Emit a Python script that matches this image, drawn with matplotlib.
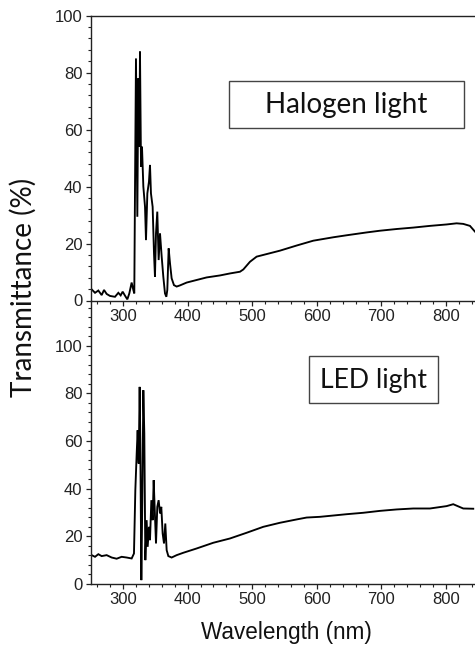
import matplotlib
matplotlib.use("Agg")
import matplotlib.pyplot as plt
from matplotlib.ticker import MultipleLocator
from matplotlib.patches import Rectangle

# ---------------- data ----------------
halogen_wl = [251.5, 256.7, 261.8, 267.0, 270.6, 274.7, 279.9, 287.6, 292.8, 296.4,
              299.5, 303.1, 306.7, 309.8, 313.4, 316.0, 317.5, 318.6, 320.1, 322.2,
              323.7, 325.3, 326.3, 327.9, 329.4, 331.5, 334.1, 335.6, 337.7, 340.2,
              341.8, 343.3, 345.9, 348.0, 349.5, 351.1, 353.1, 355.2, 357.3, 359.9,
              362.4, 365.0, 367.1, 368.6, 370.7, 372.8, 375.3, 378.9, 383.1, 388.2,
              398.6, 414.0, 429.5, 450.2, 465.6, 481.1, 486.3, 496.6, 506.9, 522.4,
              543.0, 568.8, 594.6, 625.6, 646.2, 677.2, 697.8, 723.6, 749.4, 775.2,
              801.0, 816.5, 826.8, 837.2, 844.9]
halogen_t = [3.9, 2.7, 3.5, 1.9, 3.7, 2.3, 1.6, 1.3, 2.7, 1.8,
             3.1, 1.7, 0.4, 2.5, 6.3, 3.7, 2.5, 39.4, 85.0, 29.4,
             78.0, 54.0, 87.4, 47.0, 54.0, 40.0, 32.9, 21.2, 37.6, 41.7,
             47.6, 37.6, 32.9, 16.6, 8.4, 23.6, 31.2, 14.2, 23.6, 15.4,
             8.4, 2.5, 1.3, 3.7, 18.3, 13.0, 7.8, 5.4, 4.9, 5.3,
             6.3, 7.2, 8.1, 8.8, 9.5, 10.1, 10.9, 13.6, 15.4, 16.3,
             17.5, 19.3, 21.0, 22.2, 22.9, 23.9, 24.5, 25.1, 25.6, 26.2,
             26.7, 27.1, 26.9, 26.2, 24.2]

led_wl = [251.5, 256.7, 261.8, 267.0, 274.7, 282.5, 290.2, 297.9, 305.7, 313.4,
          317.0, 319.1, 321.2, 322.7, 324.3, 325.8, 326.8, 328.4, 329.9, 331.5,
          333.0, 334.6, 336.6, 338.2, 340.2, 341.8, 343.9, 345.9, 347.5, 349.0,
          351.1, 353.1, 355.2, 357.3, 359.3, 361.4, 363.5, 365.5, 367.6, 370.2,
          375.3, 383.1, 393.4, 414.0, 439.8, 465.6, 491.4, 517.2, 543.0, 568.8,
          584.3, 605.0, 646.2, 672.0, 697.8, 723.6, 749.4, 775.2, 801.0, 811.3,
          826.8, 842.3]
led_t = [12.0, 11.3, 12.4, 11.6, 12.0, 11.0, 10.5, 11.3, 11.0, 10.6,
         12.7, 39.3, 54.7, 64.5, 50.5, 82.7, 60.3, 1.5, 35.1, 81.3,
         63.1, 9.9, 26.7, 15.5, 23.9, 18.3, 35.1, 26.7, 43.5, 32.3,
         16.9, 32.3, 35.1, 29.5, 32.3, 21.1, 16.9, 25.3, 14.1, 11.6,
         11.0, 12.0, 13.0, 14.8, 17.2, 19.0, 21.4, 23.9, 25.6, 27.0,
         27.8, 28.1, 29.2, 29.8, 30.6, 31.2, 31.6, 31.6, 32.6, 33.4,
         31.6, 31.5]

x_ticks = [300, 400, 500, 600, 700, 800]
y_ticks = [0, 20, 40, 60, 80, 100]
panel_labels = ["Halogen light", "LED light"]
x_label = "Wavelength (nm)"
y_label = "Transmittance (%)"

# ---------------- figure ----------------
W, H = 475, 646
fig = plt.figure(figsize=(W / 100, H / 100), dpi=100)
tick_font = "Liberation Sans"
label_font = ["Lato", "DejaVu Sans"]

def fx(px):
    return px / W

def fy(py):
    return 1 - py / H

left = fx(90.7)
width = 1.0 - left
ax_top = fig.add_axes([left, fy(300.5), width, fy(15.7) - fy(300.5)])
ax_bot = fig.add_axes([left, fy(583.7), width, fy(300.5) - fy(583.7)])
ax_bot.patch.set_visible(False)
ax_top.set_zorder(3)
ax_top.patch.set_visible(False)

for ax, wl, t, ylim in ((ax_top, halogen_wl, halogen_t, (0, 100)),
                        (ax_bot, led_wl, led_t, (0, 119))):
    ax.plot(wl, t, color="black", lw=1.35, solid_joinstyle="miter")
    ax.set_xlim(250, 845)
    ax.set_ylim(*ylim)
    ax.set_xticks(x_ticks)
    ax.set_yticks(y_ticks)
    ax.xaxis.set_minor_locator(MultipleLocator(20))
    ax.yaxis.set_minor_locator(MultipleLocator(4))
    ax.tick_params(which="major", direction="out", length=3.4, width=0.9,
                   labelsize=12, pad=2.5, colors="#222222")
    ax.tick_params(which="minor", direction="out", length=2.1, width=0.8,
                   colors="#222222")
    for lab in ax.get_xticklabels() + ax.get_yticklabels():
        lab.set_fontfamily(tick_font)
    ax.spines["right"].set_visible(False)
    for s in ax.spines.values():
        s.set_linewidth(1.0)
        s.set_color("#222222")

ax_bot.spines["top"].set_visible(False)

# axis titles, sized to match target extents
renderer = fig.canvas.get_renderer()

def fit_text(txt, target, vertical=False):
    fig.canvas.draw()
    bb = txt.get_window_extent(renderer)
    cur = bb.height if vertical else bb.width
    txt.set_fontsize(txt.get_fontsize() * target / cur)

yl = fig.text(fx(23.5), fy(287.5), y_label, rotation=90, ha="center", va="center",
              fontsize=20, family=label_font, color="#111111")
fit_text(yl, 219, vertical=True)
xl = fig.text(fx(286), fy(633), x_label, ha="center", va="center",
              fontsize=15, family=tick_font, color="#111111")
fit_text(xl, 172)

boxes = [((229, 81, 464, 128), 162), ((309, 356, 438, 403), 107)]
for label, ((x0, y0, x1, y1), tw) in zip(panel_labels, boxes):
    rect = Rectangle((fx(x0), fy(y1)), fx(x1) - fx(x0), fy(y0) - fy(y1),
                     transform=fig.transFigure, fill=True, facecolor="white",
                     edgecolor="#444444", lw=1.0, zorder=5)
    fig.add_artist(rect)
    t = fig.text(fx((x0 + x1) / 2), fy((y0 + y1) / 2 + 1), label, ha="center",
                 va="center", fontsize=18, family=label_font, color="#111111",
                 zorder=6)
    fit_text(t, tw)

fig.savefig("out.png", dpi=100)
